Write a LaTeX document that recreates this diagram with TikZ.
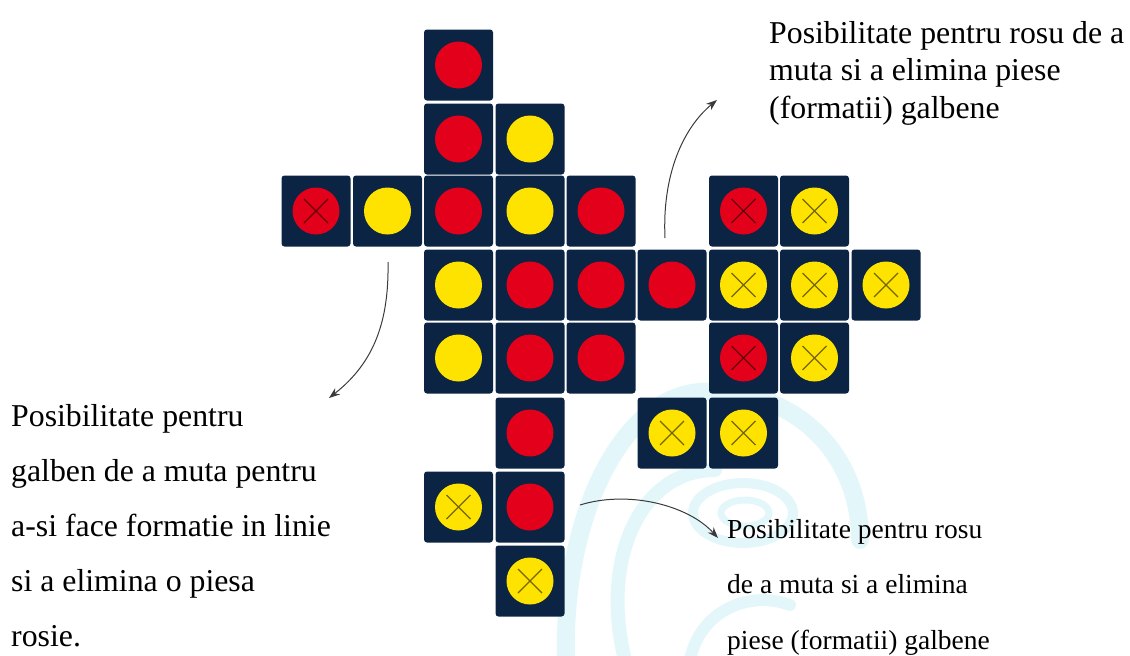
\documentclass[tikz,border=0pt]{standalone}
\usepackage{fontspec}
\setmainfont{Liberation Serif}
\usetikzlibrary{arrows.meta}
\definecolor{navy}{HTML}{0B2444}
\definecolor{pred}{HTML}{E2001A}
\definecolor{pyel}{HTML}{FFE300}
\definecolor{wm}{HTML}{E3F7FB}
\definecolor{arr}{HTML}{3A3A3A}
\tikzset{
  tile/.style={rectangle, rounded corners=3pt, fill=navy, minimum width=69pt, minimum height=71pt, inner sep=0pt},
  disc/.style={tile, path picture={\fill[#1] (path picture bounding box.center) circle (23.5pt);}},
  xdisc/.style={tile, path picture={\fill[#1] (path picture bounding box.center) circle (23.5pt);
     \draw[black, opacity=0.55, line width=1.3pt, shift={(path picture bounding box.center)}] (-12pt,-12pt) -- (12pt,12pt) (-12pt,12pt) -- (12pt,-12pt);}},
  conn/.style={draw=arr, line width=1pt, -{Stealth[length=11pt,width=8pt]}},
  wmark/.style={draw=wm, line width=18pt, line cap=round},
  lbl/.style={inner sep=0pt, align=left, text=black}
}
\begin{document}
\begin{tikzpicture}[x=1pt,y=-1pt]
\useasboundingbox (0,0) rectangle (1130,656);
% watermark
\draw[wmark] (566,660) .. controls (562,520) and (620,398) .. (700,392) .. controls (790,386) and (860,450) .. (860,540);
\draw[wmark, line width=14pt] (625,660) .. controls (600,560) and (640,470) .. (715,470);
\draw[wmark, line width=10pt] (743,513) ellipse (50pt and 30pt);
\draw[wmark, line width=7pt] (745,513) ellipse (24pt and 13pt);
\draw[wmark, line width=12pt] (690,660) .. controls (700,610) and (750,590) .. (790,605);
% column x: 316 387.5 458.5 530 601 672 743.5 814.5 886
% row y: 65 139 211 285 358 433 507 581
\node[disc=pred] (t02) at (458.5,65) {};
\node[disc=pred] (t12) at (458.5,139) {};
\node[disc=pyel] (t13) at (530,139) {};
\node[xdisc=pred] (t20) at (316,211) {};
\node[disc=pyel] (t21) at (387.5,211) {};
\node[disc=pred] (t22) at (458.5,211) {};
\node[disc=pyel] (t23) at (530,211) {};
\node[disc=pred] (t24) at (601,211) {};
\node[xdisc=pred] (t26) at (743.5,211) {};
\node[xdisc=pyel] (t27) at (814.5,211) {};
\node[disc=pyel] (t32) at (458.5,285) {};
\node[disc=pred] (t33) at (530,285) {};
\node[disc=pred] (t34) at (601,285) {};
\node[disc=pred] (t35) at (672,285) {};
\node[xdisc=pyel] (t36) at (743.5,285) {};
\node[xdisc=pyel] (t37) at (814.5,285) {};
\node[xdisc=pyel] (t38) at (886,285) {};
\node[disc=pyel] (t42) at (458.5,358) {};
\node[disc=pred] (t43) at (530,358) {};
\node[disc=pred] (t44) at (601,358) {};
\node[xdisc=pred] (t46) at (743.5,358) {};
\node[xdisc=pyel] (t47) at (814.5,358) {};
\node[disc=pred] (t53) at (530,433) {};
\node[xdisc=pyel] (t55) at (672,433) {};
\node[xdisc=pyel] (t56) at (743.5,433) {};
\node[xdisc=pyel] (t62) at (458.5,507) {};
\node[disc=pred] (t63) at (530,507) {};
\node[xdisc=pyel] (t73) at (530,581) {};
% texts (base anchor = baseline of last line)
\node[lbl, anchor=base west, font={\fontsize{31.8pt}{55.2pt}\selectfont}] (tl) at (11,646.8)
  {Posibilitate pentru\\galben de a muta pentru\\a-si face formatie in linie\\si a elimina o piesa\\rosie.};
\node[lbl, anchor=base west, font={\fontsize{31.8pt}{37.5pt}\selectfont}] (tr) at (769,118)
  {Posibilitate pentru rosu de a\\muta si a elimina piese\\(formatii) galbene};
\node[lbl, anchor=base west, font={\fontsize{27.5pt}{55.5pt}\selectfont}] (br) at (727,649)
  {Posibilitate pentru rosu\\de a muta si a elimina\\piese (formatii) galbene};
% arrows
\coordinate (a1s) at (388,262);
\coordinate (a1e) at (329,398);
\coordinate (a2s) at (665,238);
\coordinate (a2e) at (717,100);
\coordinate (a3s) at (580,505);
\coordinate (a3e) at (718,538);
\draw[conn] (a1s) .. controls (389,320) and (375,362) .. (a1e);
\draw[conn] (a2s) .. controls (662,175) and (683,128) .. (a2e);
\draw[conn] (a3s) .. controls (628,490) and (688,505) .. (a3e);
\end{tikzpicture}
\end{document}
